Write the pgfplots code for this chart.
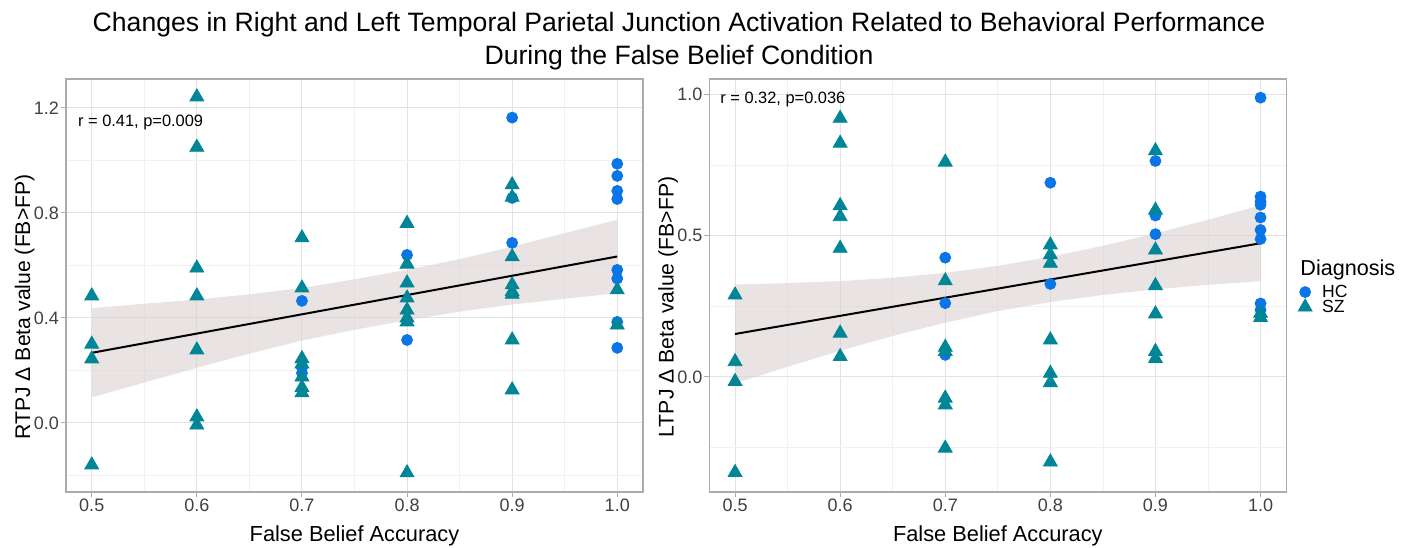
\documentclass[border=0pt]{standalone}
\usepackage{pgfplots}
\pgfplotsset{compat=1.18}
\usepackage{fontspec}
\setmainfont{Liberation Sans}
\definecolor{hc}{RGB}{10,117,230}
\definecolor{sz}{RGB}{0,134,150}
\definecolor{band}{RGB}{218,208,208}
\pgfplotsset{
  myax/.style={
    scale only axis, width=288.5pt, height=206.5pt,
    xmin=0.4755, xmax=1.0245,
    xtick={0.5,0.6,0.7,0.8,0.9,1.0},
    minor xtick={0.55,0.65,0.75,0.85,0.95},
    grid=both,
    major grid style={gray!22, line width=0.5pt},
    minor grid style={gray!11, line width=0.35pt},
    axis line style={gray!65, line width=0.6pt},
    tick pos=left,
    tick align=outside, major tick length=2.5pt, minor tick length=0pt,
    tick style={gray!65, line width=0.5pt},
    /pgf/number format/assume math mode=true,
    xticklabel style={/pgf/number format/fixed, /pgf/number format/fixed zerofill, /pgf/number format/precision=1},
    yticklabel style={/pgf/number format/fixed, /pgf/number format/fixed zerofill, /pgf/number format/precision=1},
    ticklabel style={font=\fontsize{9}{10}\selectfont, text=black!75, inner sep=0.8pt},
    xlabel={False Belief Accuracy},
    every axis x label/.style={at={(axis description cs:0.5,-0.121)}, anchor=base, font=\fontsize{10.9}{12}\selectfont},
    every axis y label/.style={at={(axis description cs:-0.0715,0.448)}, rotate=90, anchor=center, font=\fontsize{10.6}{12}\selectfont},
  },
  hcst/.style={only marks, mark=*, mark size=2.75pt, color=hc, mark options={draw=hc, fill=hc}},
  szst/.style={only marks, mark=triangle*, mark size=4pt, color=sz, mark options={draw=sz, fill=sz}},
}
\begin{document}
\begin{tikzpicture}
\path[use as bounding box] (0,0) rectangle (703.5pt,273.5pt);
\node[anchor=base, font=\fontsize{13.3}{15}\selectfont] at (339.5pt,257.5pt) {Changes in Right and Left Temporal Parietal Junction Activation Related to Behavioral Performance};
\node[anchor=base, font=\fontsize{13.3}{15}\selectfont] at (339.5pt,241pt) {During the False Belief Condition};

\begin{axis}[myax, at={(33pt,27.5pt)}, anchor=south west,
  ymin=-0.263, ymax=1.31,
  ytick={0,0.4,0.8,1.2}, minor ytick={-0.2,0.2,0.6,1.0},
  ylabel={RTPJ Δ Beta value (FB>FP)}]
\addplot[hcst] table {
x y
0.7 0.465
0.7 0.21
0.7 0.19
0.8 0.64
0.8 0.316
0.9 1.163
0.9 0.857
0.9 0.686
1.0 0.987
1.0 0.941
1.0 0.884
1.0 0.853
1.0 0.583
1.0 0.55
1.0 0.385
1.0 0.286
};
\addplot[szst] table {
x y
0.5 0.484
0.5 0.30
0.5 0.244
0.5 -0.16
0.6 1.242
0.6 1.05
0.6 0.59
0.6 0.484
0.6 0.278
0.6 0.023
0.6 -0.008
0.7 0.705
0.7 0.514
0.7 0.245
0.7 0.225
0.7 0.175
0.7 0.135
0.7 0.115
0.8 0.76
0.8 0.605
0.8 0.533
0.8 0.476
0.8 0.43
0.8 0.40
0.8 0.385
0.8 -0.19
0.9 0.907
0.9 0.86
0.9 0.633
0.9 0.526
0.9 0.50
0.9 0.49
0.9 0.316
0.9 0.126
1.0 0.507
1.0 0.373
};
\addplot[fill=band, draw=none, fill opacity=0.6, forget plot] coordinates {
(0.5,0.437) (0.55,0.454) (0.6,0.470) (0.65,0.490) (0.7,0.514) (0.75,0.547) (0.8,0.583) (0.85,0.624) (0.9,0.671) (0.95,0.723) (1.0,0.774)
(1.0,0.494) (0.95,0.473) (0.9,0.451) (0.85,0.424) (0.8,0.391) (0.75,0.355) (0.7,0.314) (0.65,0.264) (0.6,0.210) (0.55,0.154) (0.5,0.097)
} -- cycle;
\addplot[black, line width=1pt, forget plot] coordinates {(0.5,0.267) (1.0,0.634)};
\node[anchor=west, font=\fontsize{8.2}{10}\selectfont, inner sep=0pt] at (axis cs:0.4867,1.143) {r = 0.41, p=0.009};
\end{axis}

\begin{axis}[myax, at={(354.65pt,27.5pt)}, anchor=south west,
  ymin=-0.407, ymax=1.054,
  ytick={0,0.5,1.0}, minor ytick={-0.25,0.25,0.75},
  ylabel={LTPJ Δ Beta value (FB>FP)},
  legend style={at={(1.02,0.502)}, anchor=north west, draw=none, fill=none,
    font=\fontsize{8.8}{9}\selectfont, row sep=0pt, inner sep=0pt,
    nodes={inner sep=0pt, text height=6.2pt, text depth=0.8pt},
    /tikz/every odd column/.append style={column sep=5pt}},
  legend cell align=left]
\addplot[hcst] table {
x y
0.7 0.422
0.7 0.261
0.7 0.078
0.8 0.687
0.8 0.329
0.9 0.764
0.9 0.58
0.9 0.571
0.9 0.505
1.0 0.988
1.0 0.638
1.0 0.62
1.0 0.609
1.0 0.564
1.0 0.52
1.0 0.488
1.0 0.26
1.0 0.237
};
\addlegendentry{HC}
\addplot[szst] table {
x y
0.5 0.29
0.5 0.054
0.5 -0.016
0.5 -0.338
0.6 0.915
0.6 0.827
0.6 0.606
0.6 0.567
0.6 0.455
0.6 0.155
0.6 0.072
0.7 0.76
0.7 0.34
0.7 0.105
0.7 0.09
0.7 -0.075
0.7 -0.099
0.7 -0.252
0.8 0.467
0.8 0.432
0.8 0.402
0.8 0.131
0.8 0.013
0.8 -0.02
0.8 -0.301
0.9 0.80
0.9 0.59
0.9 0.449
0.9 0.323
0.9 0.223
0.9 0.09
0.9 0.065
1.0 0.225
1.0 0.21
};
\addlegendentry{SZ}
\addplot[fill=band, draw=none, fill opacity=0.6, forget plot] coordinates {
(0.5,0.327) (0.55,0.332) (0.6,0.339) (0.65,0.351) (0.7,0.368) (0.75,0.393) (0.8,0.425) (0.85,0.464) (0.9,0.508) (0.95,0.556) (1.0,0.607)
(1.0,0.339) (0.95,0.326) (0.9,0.310) (0.85,0.290) (0.8,0.265) (0.75,0.233) (0.7,0.192) (0.65,0.145) (0.6,0.093) (0.55,0.036) (0.5,-0.023)
} -- cycle;
\addplot[black, line width=1pt, forget plot] coordinates {(0.5,0.152) (1.0,0.473)};
\node[anchor=west, font=\fontsize{8.2}{10}\selectfont, inner sep=0pt] at (axis cs:0.4857,0.98) {r = 0.32, p=0.036};
\end{axis}
\node[anchor=base west, font=\fontsize{10.8}{12}\selectfont, inner sep=0pt] at (650pt,136pt) {Diagnosis};
\end{tikzpicture}
\end{document}
